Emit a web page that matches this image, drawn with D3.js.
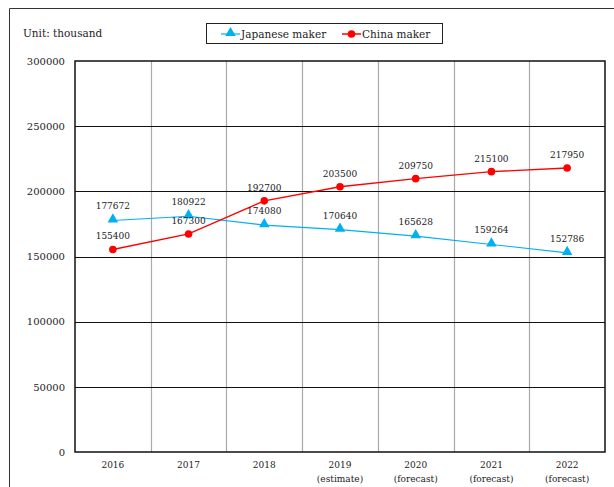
<!DOCTYPE html>
<html><head><meta charset="utf-8">
<script src="https://cdn.jsdelivr.net/npm/d3@7"></script>
<style>body{margin:0;background:#fff}svg{display:block}</style>
</head><body><svg id="c" width="614" height="487"></svg>
<script>
const years = ["2016","2017","2018","2019","2020","2021","2022"];
const subLabels = ["","","","(estimate)","(forecast)","(forecast)","(forecast)"];
const japanese = [177672,180922,174080,170640,165628,159264,152786];
const china = [155400,167300,192700,203500,209750,215100,217950];
const yTicks = [0,50000,100000,150000,200000,250000,300000];

const FONT = "'DejaVu Serif', serif";
const svg = d3.select("#c");
const L=75,R=605,T=61,B=452;
const x = d3.scaleBand().domain(years).range([L,R]);
const y = d3.scaleLinear().domain([0,300000]).range([B,T]);

svg.append("path").attr("d","M9.5,487 L9.5,8.5 L614,8.5").attr("fill","none").attr("stroke","#333").attr("stroke-width",1);

svg.append("g").selectAll("line").data(years.slice(1)).join("line")
 .attr("x1",d=>Math.round(x(d))+0.5).attr("x2",d=>Math.round(x(d))+0.5).attr("y1",T).attr("y2",B)
 .attr("stroke","#aaa").attr("stroke-width",1.2);
svg.append("g").selectAll("line").data(yTicks.slice(1,-1)).join("line")
 .attr("x1",L).attr("x2",R).attr("y1",d=>Math.round(y(d))+0.5).attr("y2",d=>Math.round(y(d))+0.5)
 .attr("stroke","#111").attr("stroke-width",1);
svg.append("rect").attr("x",L).attr("y",T).attr("width",R-L).attr("height",B-T)
 .attr("fill","none").attr("stroke","#111").attr("stroke-width",1.5);

const yAxis = d3.axisLeft(y).tickValues(yTicks).tickSize(0).tickPadding(10).tickFormat(d3.format("d"));
const gy = svg.append("g").attr("transform",`translate(${L},0)`).call(yAxis);
gy.select(".domain").remove();
gy.attr("font-family",null).attr("font-size",null);
gy.selectAll("text").style("font-size","10px");

const xAxis = d3.axisBottom(x).tickSize(0).tickPadding(10);
const gx = svg.append("g").attr("transform",`translate(0,${B})`).call(xAxis);
gx.select(".domain").remove();
gx.attr("font-family",null).attr("font-size",null);
gx.selectAll("text").style("font-size","9px");
svg.append("g").selectAll("text").data(years).join("text")
 .attr("x",d=>x(d)+x.bandwidth()/2).attr("y",B+30).attr("text-anchor","middle")
 .style("font-size","9px").text((d,i)=>subLabels[i]);

const cx = d=>x(d)+x.bandwidth()/2;
const line = d3.line().x(d=>cx(d[0])).y(d=>y(d[1]));

const jData = years.map((d,i)=>[d,japanese[i]]);
const cData = years.map((d,i)=>[d,china[i]]);
const blue="#00B0F0", red="#FF0000";

svg.append("path").attr("d",line(jData)).attr("fill","none").attr("stroke",blue).attr("stroke-width",1.1);
svg.append("path").attr("d",line(cData)).attr("fill","none").attr("stroke",red).attr("stroke-width",1.4);

const tri = d3.symbol().type(d3.symbolTriangle).size(48);
svg.append("g").selectAll("path").data(jData).join("path")
 .attr("d",tri).attr("transform",d=>`translate(${cx(d[0])},${y(d[1])-1})`).attr("fill",blue);
svg.append("g").selectAll("circle").data(cData).join("circle")
 .attr("cx",d=>cx(d[0])).attr("cy",d=>y(d[1])).attr("r",3.8).attr("fill",red);

svg.append("g").selectAll("text").data(jData).join("text")
 .attr("x",d=>cx(d[0])).attr("y",d=>y(d[1])-11).attr("text-anchor","middle").style("font-size","9px").text(d=>d[1]);
svg.append("g").selectAll("text").data(cData).join("text")
 .attr("x",d=>cx(d[0])).attr("y",d=>y(d[1])-10).attr("text-anchor","middle").style("font-size","9px").text(d=>d[1]);

svg.append("text").attr("x",23).attr("y",37).style("font-size","10.5px").text("Unit: thousand");

const lg = svg.append("g");
lg.append("rect").attr("x",206.5).attr("y",23.5).attr("width",236).attr("height",20).attr("fill","#fff").attr("stroke","#222").attr("stroke-width",1);
lg.append("line").attr("x1",221).attr("x2",240).attr("y1",34).attr("y2",34).attr("stroke",blue).attr("stroke-width",1.2);
lg.append("path").attr("d",tri).attr("transform","translate(230.5,33)").attr("fill",blue);
lg.append("text").attr("x",241).attr("y",38).style("font-size","10.5px").text("Japanese maker");
lg.append("line").attr("x1",342).attr("x2",361).attr("y1",34).attr("y2",34).attr("stroke",red).attr("stroke-width",1.5);
lg.append("circle").attr("cx",351.5).attr("cy",34).attr("r",3.8).attr("fill",red);
lg.append("text").attr("x",362).attr("y",38).style("font-size","10.5px").text("China maker");

svg.selectAll("text").style("font-family",FONT).attr("fill","#222");
</script></body></html>
